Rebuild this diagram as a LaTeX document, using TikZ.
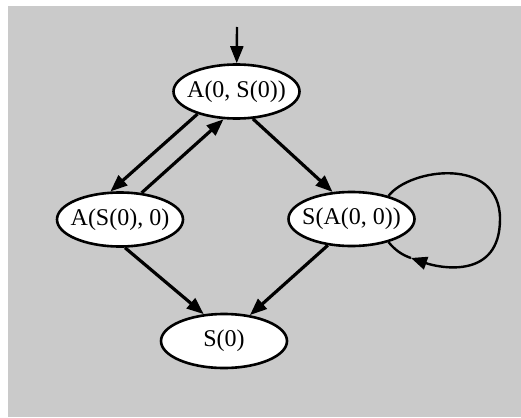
\documentclass[tikz,border=0pt]{standalone}
\usepackage{fontspec}
\setmainfont{Liberation Serif}
\usetikzlibrary{shapes.geometric,arrows.meta}
\definecolor{panelgray}{RGB}{202,202,202}

\begin{document}
\begin{tikzpicture}[x=1pt,y=-1pt,
    term/.style={draw,ellipse,fill=white,line width=2.6pt,minimum width=126pt,minimum height=54pt,inner xsep=-5.5pt,inner ysep=0pt,font=\fontsize{24}{24}\selectfont},
    trans/.style={line width=3.2pt,-{Triangle[length=17pt,width=13pt]}}]
    \fill[white](0,0)rectangle(521,417);
    \fill[panelgray](8,6)rectangle(521,417);
    \useasboundingbox(0,0)rectangle(521,417);

    % terms
    \node[term](top) at (236.5,91.5){A(0, S(0))};
    \node[term](left) at (120,219.5){A(S(0), 0)};
    \node[term](right) at (351.5,219){S(A(0, 0))};
    \node[term](bot) at (224,341){S(0)};

    \coordinate(start) at (237,27);
    \draw[trans,line width=2.4pt](start)--(top);

    \draw[trans](top.210)--(left.109);
    \draw[trans](left.51)--(top.245);
    \draw[trans](top.301)--(right.125);
    \draw[trans](left.280)--(bot.127);
    \draw[trans](right.228)--(bot.45);

    % loop on S(A(0, 0)), head drawn before the end
    \coordinate(looptip) at (411,258);
    \draw[line width=2.4pt,-{Triangle[length=16pt,width=13pt]}](right.32)..controls(410,168)and(500,156)..(500,219)
        ..controls(500,280)and(440,268)..(looptip);
    \draw[line width=2.4pt](looptip)..controls(402,255)and(395,250)..(right.-32);
\end{tikzpicture}
\end{document}
